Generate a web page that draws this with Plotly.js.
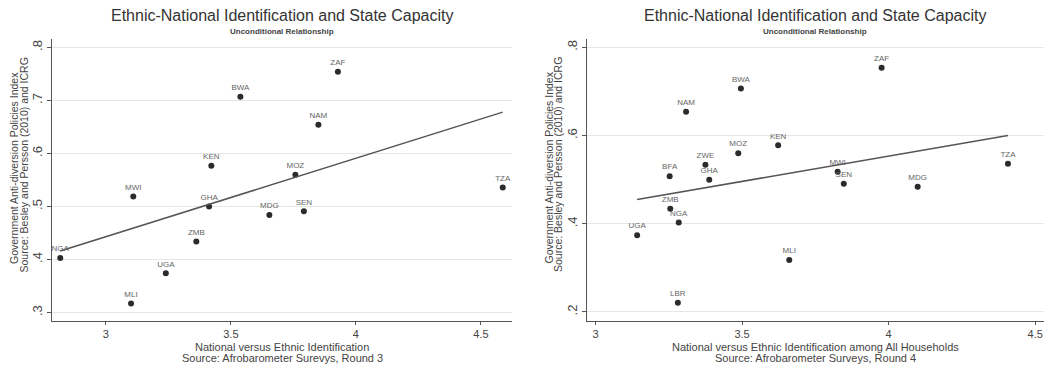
<!DOCTYPE html>
<html><head><meta charset="utf-8">
<script src="https://cdn.plot.ly/plotly-3.0.1.min.js"></script>
<style>html,body{margin:0;padding:0;background:#fff}</style>
</head><body>
<div id="chart" style="width:1050px;height:366px"></div>
<script>
// Panel 1: Afrobarometer Round 3
const r3Countries = ["ZAF","BWA","NAM","KEN","MOZ","TZA","MWI","GHA","MDG","SEN","ZMB","NGA","UGA","MLI"];
const r3X = [3.928,3.538,3.850,3.422,3.758,4.587,3.110,3.413,3.654,3.792,3.362,2.818,3.240,3.101];
const r3Y = [0.754,0.707,0.654,0.577,0.560,0.536,0.519,0.500,0.484,0.491,0.434,0.403,0.374,0.317];
const r3FitX = [2.818,4.587];
const r3FitY = [0.416,0.678];
const r3XTicks = [3,3.5,4,4.5];
const r3XTickText = ["3","3.5","4","4.5"];
const r3YTicks = [0.3,0.4,0.5,0.6,0.7,0.8];
const r3YTickText = [".3",".4",".5",".6",".7",".8"];
const r3XTitle = ["National versus Ethnic Identification", "Source: Afrobarometer Surevys, Round 3"];

// Panel 2: Afrobarometer Round 4
const r4Countries = ["ZAF","BWA","NAM","KEN","MOZ","ZWE","BFA","GHA","MWI","SEN","MDG","TZA","ZMB","NGA","UGA","MLI","LBR"];
const r4X = [3.976,3.496,3.309,3.623,3.487,3.375,3.253,3.388,3.826,3.847,4.099,4.407,3.255,3.284,3.142,3.661,3.281];
const r4Y = [0.754,0.707,0.654,0.578,0.560,0.534,0.508,0.500,0.518,0.491,0.484,0.536,0.434,0.403,0.374,0.318,0.221];
const r4FitX = [3.142,4.407];
const r4FitY = [0.455,0.600];
const r4XTicks = [3,3.5,4,4.5];
const r4XTickText = ["3","3.5","4","4.5"];
const r4YTicks = [0.2,0.4,0.6,0.8];
const r4YTickText = [".2",".4",".6",".8"];
const r4XTitle = ["National versus Ethnic Identification among All Households", "Source: Afrobarometer Surveys, Round 4"];

const yTitleLines = ["Government Anti-diversion Policies Index", "Source: Besley and Persson (2010) and ICRG"];
const mainTitle = "Ethnic-National Identification and State Capacity";
const subTitle = "Unconditional Relationship";

const FONT = "Liberation Sans, Arial, sans-serif";
const ptStyle = {mode:"markers+text", textposition:"top center",
  marker:{color:"#2b2b2b", size:6}, textfont:{family:FONT, size:8, color:"#666"},
  cliponaxis:false, hoverinfo:"skip", showlegend:false};
const lineStyle = {mode:"lines", line:{color:"#555", width:1.5}, hoverinfo:"skip", showlegend:false};

const traces = [
  Object.assign({x:r3X, y:r3Y, text:r3Countries, xaxis:"x", yaxis:"y"}, ptStyle),
  Object.assign({x:r3FitX, y:r3FitY, xaxis:"x", yaxis:"y"}, lineStyle),
  Object.assign({x:r4X, y:r4Y, text:r4Countries, xaxis:"x2", yaxis:"y2"}, ptStyle),
  Object.assign({x:r4FitX, y:r4FitY, xaxis:"x2", yaxis:"y2"}, lineStyle)
];

function xax(domain, range, tv, tt){
  return {domain:domain, range:range, tickvals:tv, ticktext:tt, showgrid:false, zeroline:false,
    showline:true, linecolor:"#555", linewidth:1, ticks:"outside", ticklen:3, tickcolor:"#555",
    tickfont:{family:FONT, size:11, color:"#444"}, automargin:false};
}
function yax(domain, range, tv, tt, anchor){
  return {domain:domain, range:range, tickvals:tv, ticktext:tt, showgrid:true, gridcolor:"#e6e6e6",
    zeroline:false, showline:true, linecolor:"#555", linewidth:1, ticks:"outside", ticklen:4,
    tickcolor:"#555", tickangle:-90, tickfont:{family:FONT, size:13, color:"#444"}, automargin:false,
    anchor:anchor};
}

function ann(text, xpx, ypx, size, opts){
  return Object.assign({text:text, xref:"paper", yref:"paper", x:xpx/1050, y:1-ypx/366,
    xanchor:"center", yanchor:"middle", showarrow:false,
    font:{family:FONT, size:size, color:"#333"}}, opts||{});
}

const panels = [
  {cx:282, yl:[14,23.5], xt:r3XTitle},
  {cx:815, yl:[548.5,558], xt:r4XTitle}
];
const annotations = [];
panels.forEach(p => {
  annotations.push(ann(mainTitle, p.cx, 15.5, 16));
  annotations.push(ann("<b>"+subTitle+"</b>", p.cx, 31.5, 8, {font:{family:FONT, size:8, color:"#444"}}));
  annotations.push(ann(p.xt[0], p.cx, 347, 11, {font:{family:FONT, size:11, color:"#444"}}));
  annotations.push(ann(p.xt[1], p.cx, 358, 11, {font:{family:FONT, size:11, color:"#444"}}));
  annotations.push(ann(yTitleLines[0], p.yl[0], 168, 10.5, {textangle:-90, font:{family:FONT, size:10.5, color:"#444"}}));
  annotations.push(ann(yTitleLines[1], p.yl[1], 165, 10.5, {textangle:-90, font:{family:FONT, size:10.5, color:"#444"}}));
});

const yDom = [1-321/366, 1-39/366];
const layout = {
  width:1050, height:366, margin:{l:0,r:0,t:0,b:0},
  paper_bgcolor:"#fff", plot_bgcolor:"#fff",
  xaxis: Object.assign(xax([52/1050, 512/1050],[2.785,4.624], r3XTicks, r3XTickText), {anchor:"y"}),
  yaxis: yax(yDom,[0.284,0.816], r3YTicks, r3YTickText, "x"),
  xaxis2: Object.assign(xax([587/1050, 1044/1050],[2.971,4.53], r4XTicks, r4XTickText), {anchor:"y2"}),
  yaxis2: yax(yDom,[0.1795,0.819], r4YTicks, r4YTickText, "x2"),
  annotations: annotations
};
Plotly.newPlot("chart", traces, layout, {staticPlot:true, displayModeBar:false});
</script>
</body></html>
